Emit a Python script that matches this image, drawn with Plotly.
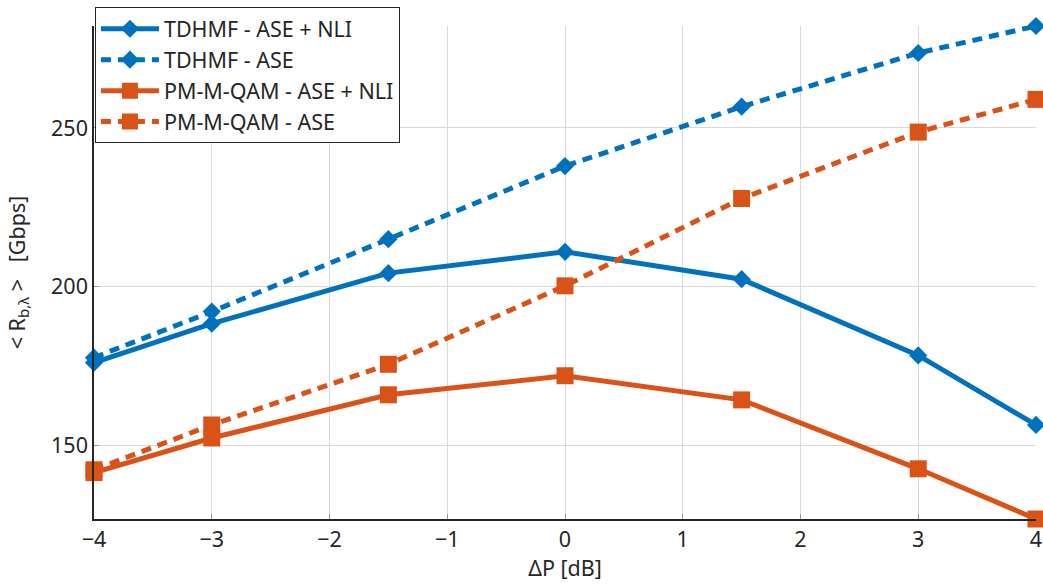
import plotly.graph_objects as go

delta_p = [-4, -3, -1.5, 0, 1.5, 3, 4]
tdhmf_ase_nli = [176.1, 188.4, 204.3, 211.0, 202.4, 178.4, 156.5]
tdhmf_ase = [177.7, 192.2, 215.0, 238.0, 256.7, 273.6, 282.1]
pm_ase_nli = [141.5, 152.4, 166.0, 172.0, 164.4, 142.7, 126.9]
pm_ase = [142.4, 156.5, 175.6, 200.3, 227.8, 248.7, 259.0]

x_ticks = [-4, -3, -2, -1, 0, 1, 2, 3, 4]
y_ticks = [150, 200, 250]

BLUE = "#0072BD"
ORANGE = "#D95319"
FONT = "Noto Sans"
FS = 21.5

fig = go.Figure()

series = [
    ("TDHMF - ASE + NLI", tdhmf_ase_nli, BLUE, "solid", "diamond", 14),
    ("TDHMF - ASE", tdhmf_ase, BLUE, "10px,7px", "diamond", 14),
    ("PM-M-QAM - ASE + NLI", pm_ase_nli, ORANGE, "solid", "square", 17),
    ("PM-M-QAM - ASE", pm_ase, ORANGE, "10px,7px", "square", 17),
]
for name, ys, col, dash, sym, sz in series:
    fig.add_trace(go.Scatter(
        x=delta_p, y=ys, name=name, mode="lines+markers",
        line=dict(color=col, width=5, dash=dash),
        marker=dict(symbol=sym, size=sz, color=col, line=dict(width=0)),
        cliponaxis=False,
    ))

ymin = min(pm_ase_nli + pm_ase + tdhmf_ase + tdhmf_ase_nli)
ymax = max(pm_ase_nli + pm_ase + tdhmf_ase + tdhmf_ase_nli)

fig.update_layout(
    width=1043, height=586,
    margin=dict(l=94, r=7, t=24, b=67),
    paper_bgcolor="white", plot_bgcolor="white",
    font=dict(family=FONT, size=FS, color="#262626"),
    showlegend=True,
    legend=dict(
        x=0.001, y=1.038, xanchor="left", yanchor="top",
        bgcolor="white", bordercolor="#262626", borderwidth=1,
        font=dict(family=FONT, size=FS, color="#262626"),
        itemwidth=58, tracegroupgap=0,
    ),
    xaxis=dict(
        range=[-4, 4], tickmode="array", tickvals=x_ticks, automargin=False,
        showgrid=True, gridcolor="#d9d9d9", gridwidth=1,
        zeroline=False, showline=True, linecolor="#262626", linewidth=1.5,
        ticks="inside", ticklen=5, tickcolor="#999999",
        tickfont=dict(family=FONT, size=FS, color="#262626"),
        title=dict(text="ΔP [dB]", font=dict(family=FONT, size=FS, color="#262626"), standoff=6),
    ),
    yaxis=dict(
        range=[ymin, ymax], tickmode="array", tickvals=y_ticks, automargin=False,
        showgrid=True, gridcolor="#d9d9d9", gridwidth=1,
        zeroline=False, showline=True, linecolor="#262626", linewidth=1.5,
        ticks="inside", ticklen=5, tickcolor="#999999",
        tickfont=dict(family=FONT, size=FS, color="#262626"),
        title=dict(text="&lt; R<sub>b,λ</sub> &gt;&nbsp;&nbsp;&nbsp;[Gbps]",
                   font=dict(family=FONT, size=FS, color="#262626"), standoff=20),
    ),
)

fig.write_html("out.html", config={"displayModeBar": False},
               post_script="document.body.style.margin='0';")
